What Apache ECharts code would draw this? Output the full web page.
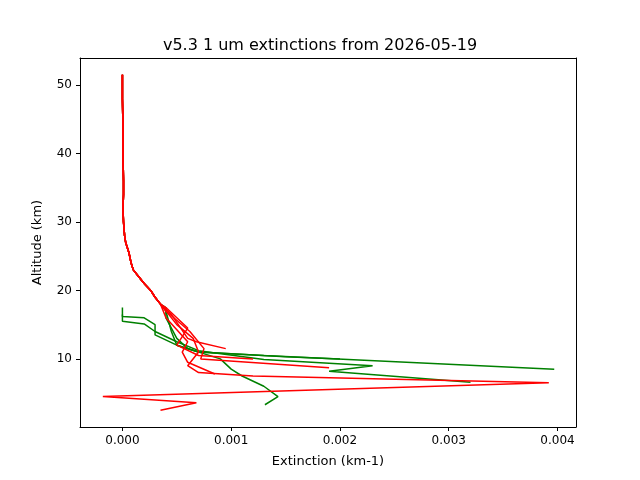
<!DOCTYPE html><html><head><meta charset="utf-8"><script src="https://cdn.jsdelivr.net/npm/echarts@6/dist/echarts.min.js"></script></head><body style="margin:0"><div id="c" style="width:640px;height:480px"></div><script>
const upper=[[0,51.5],[0,48],[0.000005,44],[0.000005,40],[0.00001,36],[0.00001,34],[0.000005,32],[0.00001,30],[0.00002,28],[0.00003,27],[0.00006,25.5],[0.00008,24],[0.0001,23],[0.00015,22],[0.0002,21],[0.00026,20],[0.0003,19],[0.00035,18]];
const green1=[[0.0004,17],[0.00045,14],[0.0005,12],[0.0007,11],[0.0013,10.5],[0.00397,8.5]];
const green2=[[0,17.5],[0,15.5],[0.0002,15.1],[0.0003,14],[0.0005,12.5],[0.0007,11.2],[0.0013,9.9],[0.0023,9],[0.0019,8.2],[0.0032,6.6]];
const green3=[[0.0004,17.5],[0.0004,16],[0.00045,14.5],[0.0005,13],[0.0006,11.5],[0.0009,10],[0.001,8.5],[0.0011,7.5],[0.0013,6],[0.00143,4.5],[0.00131,3.3]];
const green4=[[0,16.5],[0,16.2],[0.0002,16],[0.0003,15],[0.0003,13.5],[0.0005,12],[0.0007,11],[0.0015,10.3],[0.002,10]];
const red1=[[0.0005,15],[0.00065,13],[0.0007,11],[0.0006,9],[0.0007,8],[0.0012,7.5],[0.00392,6.5],[-0.00018,4.5],[0.00068,3.6],[0.00035,2.5]];
const red2=[[0.0004,17],[0.00062,14],[0.00075,11.5],[0.00072,10],[0.0019,8.7]];
const red3=[[0.00045,16.5],[0.0006,13],[0.00068,12.5],[0.00095,11.5]];
const red4=[[0.0004,17.5],[0.0006,14.5],[0.0005,12],[0.0007,10.5],[0.0012,10]];
const red5=[[0.0004,16],[0.0006,12.5],[0.00055,11],[0.0006,9.5],[0.00085,7.8]];
const profiles=[['g',green1,true],['g',green2,false],['g',green3,true],['g',green4,false],['r',red1,true],['r',red2,true],['r',red3,true],['r',red4,true],['r',red5,true]];
const xTicks=[0,0.001,0.002,0.003,0.004];
const yTicks=[10,20,30,40,50];
const series=profiles.map(([c,p,u])=>({type:'line',showSymbol:false,symbol:'none',data:u?upper.concat(p):p,lineStyle:{width:1.5,color:c==='g'?'#008000':'#ff0000'},animation:false}));
const line={show:true,onZero:false,lineStyle:{color:'#000',width:1}};
const F='DejaVu Sans';
echarts.init(document.getElementById('c')).setOption({
textStyle:{fontFamily:F},
title:{text:'v5.3 1 um extinctions from 2026-05-19',left:'center',top:33,textStyle:{fontSize:16,fontWeight:'normal',color:'#000',fontFamily:F}},
grid:{left:80,right:64,top:58,bottom:53},
xAxis:[{type:'value',min:-0.00039,max:0.00417,name:'Extinction (km-1)',nameLocation:'middle',nameGap:28,nameTextStyle:{color:'#000',fontSize:13,fontFamily:F},axisLine:line,splitLine:{show:false},
 axisTick:{show:true,length:4,customValues:xTicks,lineStyle:{color:'#000'}},axisLabel:{color:'#000',fontSize:12,fontFamily:F,customValues:xTicks,formatter:v=>v.toFixed(3)}},
 {type:'value',position:'top',min:-0.00039,max:0.00417,axisLine:line,axisTick:{show:false},axisLabel:{show:false},splitLine:{show:false}}],
yAxis:[{type:'value',min:0.05,max:53.95,name:'Altitude (km)',nameLocation:'middle',nameGap:36,nameTextStyle:{color:'#000',fontSize:13,fontFamily:F},axisLine:line,splitLine:{show:false},
 axisTick:{show:true,length:4,customValues:yTicks,lineStyle:{color:'#000'}},axisLabel:{color:'#000',fontSize:12,fontFamily:F,customValues:yTicks}},
 {type:'value',position:'right',min:0.05,max:53.95,axisLine:line,axisTick:{show:false},axisLabel:{show:false},splitLine:{show:false}}],
series
});
</script></body></html>
